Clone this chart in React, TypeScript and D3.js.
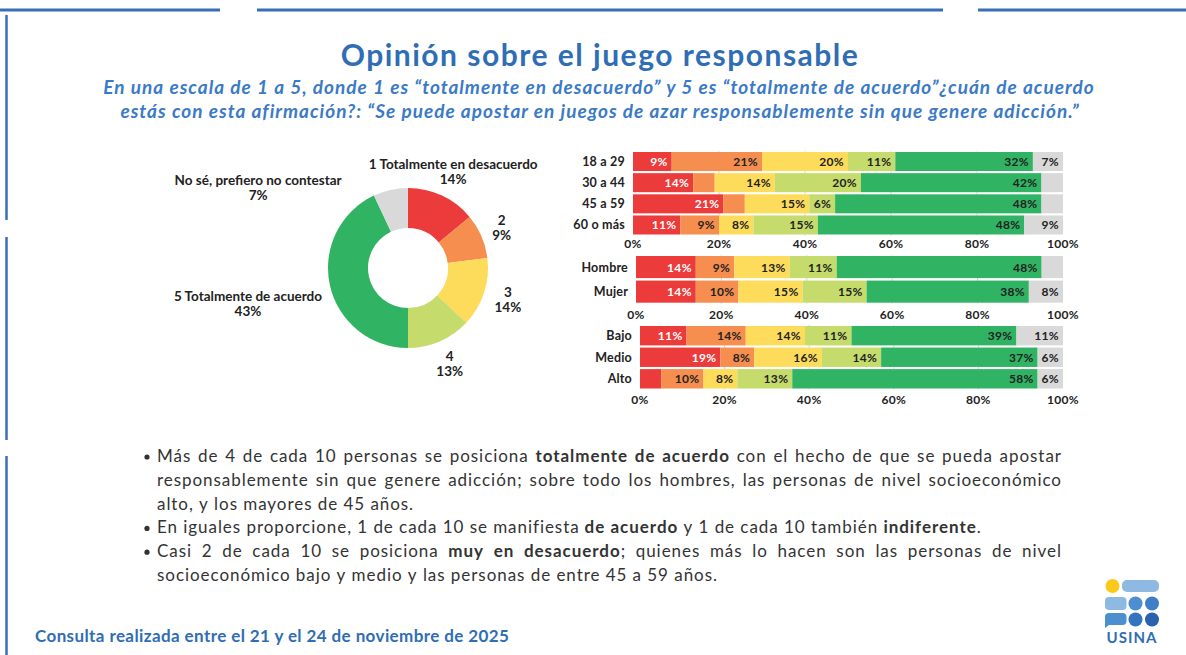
import * as d3 from 'd3';
import { useMemo } from 'react';

// ---- data ----
const segmentNames = ['1', '2', '3', '4', '5', 'NS'];
const segmentColors = ['#EC3B3B', '#F58E4F', '#FDDC5C', '#C5DB6C', '#30B463', '#D9D9D9'];

const donutLabels = ['1 Totalmente en desacuerdo', '2', '3', '4', '5 Totalmente de acuerdo', 'No sé, prefiero no contestar'];
const donutValues = [14, 9, 14, 13, 43, 7];

const ageCategories = ['18 a 29', '30 a 44', '45 a 59', '60 o más'];
const ageValues = [
  [9, 21, 20, 11, 32, 7],
  [14, 5, 14, 20, 42, 5],
  [21, 5, 15, 6, 48, 5],
  [11, 9, 8, 15, 48, 9],
];
const genderCategories = ['Hombre', 'Mujer'];
const genderValues = [
  [14, 9, 13, 11, 48, 5],
  [14, 10, 15, 15, 38, 8],
];
const nseCategories = ['Bajo', 'Medio', 'Alto'];
const nseValues = [
  [11, 14, 14, 11, 39, 11],
  [19, 8, 16, 14, 37, 6],
  [5, 10, 8, 13, 58, 6],
];
const axisTicks = [0, 20, 40, 60, 80, 100];

const bulletLines = [
  { bullet: true, justify: true, segs: [{ t: 'Más de 4 de cada 10 personas se posiciona ', b: false }, { t: 'totalmente de acuerdo', b: true }, { t: ' con el hecho de que se pueda apostar', b: false }] },
  { bullet: false, justify: true, segs: [{ t: 'responsablemente sin que genere adicción; sobre todo los hombres, las personas de nivel socioeconómico', b: false }] },
  { bullet: false, justify: false, segs: [{ t: 'alto, y los mayores de 45 años.', b: false }] },
  { bullet: true, justify: false, segs: [{ t: 'En iguales proporcione, 1 de cada 10 se manifiesta ', b: false }, { t: 'de acuerdo', b: true }, { t: ' y 1 de cada 10 también ', b: false }, { t: 'indiferente', b: true }, { t: '.', b: false }] },
  { bullet: true, justify: true, segs: [{ t: 'Casi 2 de cada 10 se posiciona ', b: false }, { t: 'muy en desacuerdo', b: true }, { t: '; quienes más lo hacen son las personas de nivel', b: false }] },
  { bullet: false, justify: false, segs: [{ t: 'socioeconómico bajo y medio y las personas de entre 45 a 59 años.', b: false }] },
];

const FONT = 'Lato, "Open Sans", sans-serif';
const BLUE = '#2F6DB5';

const BarGroup = ({ categories, values, x0, x1, top, bottom, axisY }) => {
  const x = d3.scaleLinear().domain([0, 100]).range([x0, x1]);
  const y = d3.scaleBand().domain(categories).range([top, bottom]).paddingInner(0.1);
  const rows = categories.map((c, i) => {
    const r = { cat: c };
    segmentNames.forEach((k, j) => (r[k] = values[i][j]));
    return r;
  });
  const series = d3.stack().keys(segmentNames)(rows);

  return (
    <g>
      {axisTicks.slice(1, -1).map((t) => (
        <line key={t} x1={x(t)} x2={x(t)} y1={top - 1} y2={bottom + 1} stroke="#d6d6d6" />
      ))}
      {series.map((s, si) =>
        s.map((d, i) => (
          <rect key={si + '-' + i} x={x(d[0])} y={y(categories[i])} width={x(d[1]) - x(d[0])}
            height={y.bandwidth()} fill={segmentColors[si]} />
        ))
      )}
      {series.map((s, si) =>
        s.map((d, i) => {
          const v = d[1] - d[0];
          if (v < 6) return null;
          return (
            <text key={'l' + si + '-' + i} x={x(d[1]) - 4} y={y(categories[i]) + y.bandwidth() / 2 + 4.5}
              textAnchor="end" fontSize={12} letterSpacing={0.3} fontWeight={700} fontFamily={FONT}
              fill={si === 0 ? '#fff' : '#222'}>{v}%</text>
          );
        })
      )}
      {categories.map((c) => (
        <text key={c} x={x0 - 8} y={y(c) + y.bandwidth() / 2 + 4.5} textAnchor="end"
          fontSize={12.5} letterSpacing={0.2} fontWeight={700} fontFamily={FONT} fill="#222">{c}</text>
      ))}
      {axisTicks.map((t) => (
        <text key={t} x={x(t)} y={axisY} textAnchor="middle" fontSize={12} letterSpacing={0.3} fontWeight={700}
          fontFamily={FONT} fill="#222">{t}%</text>
      ))}
    </g>
  );
};

const Donut = () => {
  const cx = 408, cy = 268;
  const arcs = d3.pie().sort(null)(donutValues);
  const arc = d3.arc().innerRadius(40).outerRadius(80);
  // label placement: radius for each slice, last one shifted up-left
  const labelRadius = [106, 102, 105, 105, 164, 170];
  const labelAngleShift = [0, 0, 0, 0, 0, -0.86];
  return (
    <g transform={`translate(${cx},${cy})`}>
      {arcs.map((a, i) => (
        <path key={i} d={arc(a)} fill={segmentColors[i]} />
      ))}
      {arcs.map((a, i) => {
        const ang = (a.startAngle + a.endAngle) / 2 + labelAngleShift[i];
        const lx = Math.sin(ang) * labelRadius[i];
        const ly = -Math.cos(ang) * labelRadius[i];
        return (
          <text key={'t' + i} textAnchor="middle" fontSize={13.5} fontWeight={700} fontFamily={FONT} fill="#222">
            <tspan x={lx} y={ly - 3}>{donutLabels[i]}</tspan>
            <tspan x={lx} y={ly + 12}>{donutValues[i]}%</tspan>
          </text>
        );
      })}
    </g>
  );
};

const Bullets = () => {
  const size = 17;
  const ls = 0.95;
  const xStart = 157, xEnd = 1061, y0 = 462, lh = 23.8;
  const layout = useMemo(() => {
    const ctx = document.createElement('canvas').getContext('2d');
    const measure = (t, b) => {
      ctx.font = `${b ? 700 : 400} ${size}px ${FONT}`;
      return ctx.measureText(t).width + ls * t.length;
    };
    const spaceW = measure(' ', false);
    return bulletLines.map((line) => {
      const words = [];
      let cur = null;
      line.segs.forEach((seg) => {
        seg.t.split(' ').forEach((p, i) => {
          if (i > 0) cur = null;
          if (!p) return;
          if (!cur) {
            cur = [];
            words.push(cur);
          }
          cur.push({ t: p, b: seg.b });
        });
      });
      const widths = words.map((w) => d3.sum(w, (p) => measure(p.t, p.b)));
      const total = d3.sum(widths) - ls;
      const gap = line.justify ? (xEnd - xStart - total) / (words.length - 1) : spaceW;
      let xx = xStart;
      const placed = words.map((w, i) => {
        const o = { x: xx, pieces: w };
        xx += widths[i] + gap;
        return o;
      });
      return { bullet: line.bullet, placed };
    });
  }, []);

  return (
    <g fontFamily={FONT} fontSize={size} letterSpacing={ls} fill="#333">
      {layout.map((l, li) => (
        <g key={li}>
          {l.bullet && <circle cx={147} cy={y0 + li * lh - 5} r={2.6} fill="#333" />}
          {l.placed.map((w, wi) => (
            <text key={wi} x={w.x} y={y0 + li * lh}>
              {w.pieces.map((p, pi) => (
                <tspan key={pi} fontWeight={p.b ? 700 : 400}>{p.t}</tspan>
              ))}
            </text>
          ))}
        </g>
      ))}
    </g>
  );
};

const Logo = () => (
  <g>
    <circle cx={1112.5} cy={586} r={7} fill="#FBC91A" />
    <rect x={1122} y={580} width={37} height={12} rx={5} fill="#8DB9E3" />
    <rect x={1105} y={597} width={21.5} height={13} rx={4} fill="#8DB9E3" />
    <circle cx={1135.5} cy={603.5} r={7} fill="#4D8ED0" />
    <circle cx={1152} cy={603.5} r={7} fill="#3F7FC7" />
    <path d="M1109,613 h13.5 a4,4 0 0 1 4,4 v4 a4,4 0 0 1 -4,4 h-13.5 l-4,3 v-11 a4,4 0 0 1 4,-4 z" fill="#4D8ED0" />
    <circle cx={1135.5} cy={619.5} r={7} fill="#3474BE" />
    <circle cx={1152} cy={619.5} r={7} fill="#2B62AD" />
    <text x={1132} y={643} textAnchor="middle" fontSize={15} fontWeight={700} letterSpacing={1}
      fontFamily={FONT} fill={BLUE}>USINA</text>
  </g>
);

export default function App() {
  return (
    <div style={{ position: 'absolute', left: 0, top: 0 }}>
      <svg width={1186} height={655} style={{ display: 'block', background: '#fff' }}>
        <defs>
          <linearGradient id="footGrad" x1="0" x2="1" y1="0" y2="0">
            <stop offset="0" stopColor="#3A6FB8" />
            <stop offset="0.6" stopColor="#5F8FCB" />
            <stop offset="1" stopColor="#D5E0EF" />
          </linearGradient>
        </defs>
        {/* frame decorations */}
        <line x1={0} x2={220} y1={10} y2={10} stroke="#3A6FB8" strokeWidth={3} />
        <line x1={257} x2={943} y1={10} y2={10} stroke="#3A6FB8" strokeWidth={3} />
        <line x1={978} x2={1186} y1={10} y2={10} stroke="#3A6FB8" strokeWidth={3} />
        <line x1={6.5} x2={6.5} y1={15} y2={220} stroke="#3A6FB8" strokeWidth={2.5} />
        <line x1={6.5} x2={6.5} y1={237} y2={440} stroke="#3A6FB8" strokeWidth={2.5} />
        <line x1={6.5} x2={6.5} y1={456} y2={655} stroke="#3A6FB8" strokeWidth={2.5} />

        <text x={600} y={66} textAnchor="middle" fontSize={30} letterSpacing={1.5} fontWeight={700} fontFamily={FONT} fill={BLUE}>
          Opinión sobre el juego responsable
        </text>
        <text x={599} y={94} textAnchor="middle" fontSize={19} letterSpacing={1} fontWeight={700} fontStyle="italic"
          fontFamily={FONT} fill="#3B7AC6">
          En una escala de 1 a 5, donde 1 es “totalmente en desacuerdo” y 5 es “totalmente de acuerdo”¿cuán de acuerdo
        </text>
        <text x={600} y={118} textAnchor="middle" fontSize={19} letterSpacing={1} fontWeight={700} fontStyle="italic"
          fontFamily={FONT} fill="#3B7AC6">
          estás con esta afirmación?: “Se puede apostar en juegos de azar responsablemente sin que genere adicción.”
        </text>

        <Donut />

        <BarGroup categories={ageCategories} values={ageValues} x0={633} x1={1063} top={152} bottom={234.5} axisY={248} />
        <BarGroup categories={genderCategories} values={genderValues} x0={636} x1={1063} top={256} bottom={302.7} axisY={319} />
        <BarGroup categories={nseCategories} values={nseValues} x0={640} x1={1063} top={326} bottom={388.5} axisY={404} />

        <Bullets />

        <line x1={35} x2={1098} y1={618} y2={618} stroke="url(#footGrad)" strokeWidth={2} />
        <text x={35} y={642} fontSize={17} letterSpacing={0.4} fontWeight={700} fontFamily={FONT} fill={BLUE}>
          Consulta realizada entre el 21 y el 24 de noviembre de 2025
        </text>
        <Logo />
      </svg>
    </div>
  );
}
